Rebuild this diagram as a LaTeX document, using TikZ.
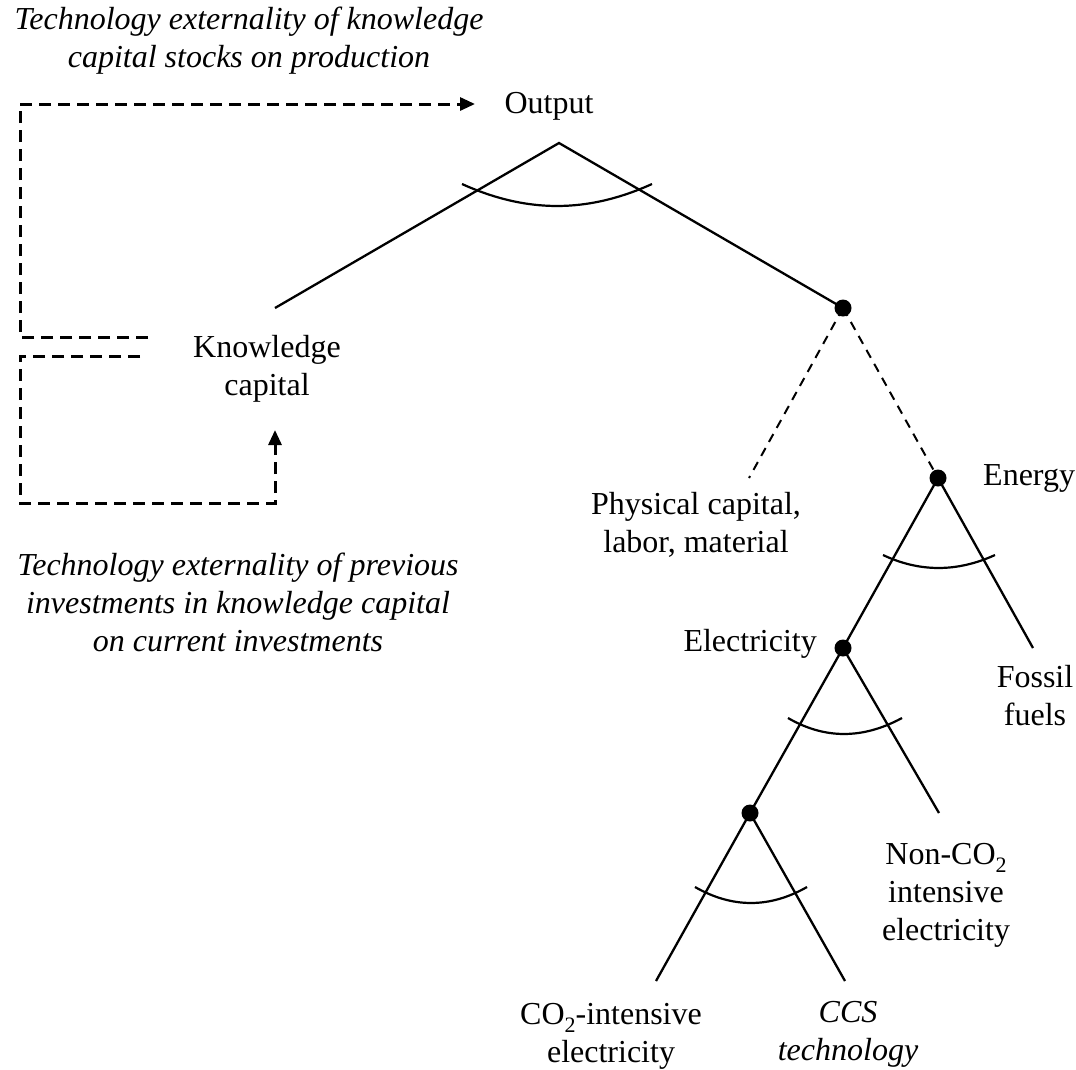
\documentclass[tikz,border=0pt]{standalone}
\usepackage{fontspec}
\setmainfont{Liberation Serif}
\usetikzlibrary{arrows.meta}
\newcommand\subtwo{\raisebox{-0.6ex}{\fontsize{22}{22}\selectfont 2}}
\begin{document}
\begin{tikzpicture}[x=1pt,y=-1pt,
  lbl/.style={inner sep=0pt,align=center,font=\fontsize{32}{38}\selectfont},
  ilbl/.style={lbl,font=\fontsize{32}{38}\selectfont\itshape},
  branch/.style={line width=2.3pt},
  subbranch/.style={line width=2pt,dash pattern=on 9pt off 7pt},
  elast/.style={line width=2.2pt},
  ext/.style={line width=3pt,dash pattern=on 12pt off 7pt,-{Triangle[length=15pt,width=13pt]}},
  junction/.style={circle,fill=black,inner sep=0pt,minimum size=17pt}]
\useasboundingbox (0,0) rectangle (1076,1069);

% texts
\node[ilbl] (toptxt) at (249,41) {Technology externality of knowledge\\capital stocks on production};
\node[ilbl] (bottxt) at (238,602) {Technology externality of previous\\investments in knowledge capital\\on current investments};
\node[lbl] (output) at (549,106) {Output};
\node[lbl] (know) at (267,369) {Knowledge\\capital};
\node[lbl] (phys) at (696,525) {Physical capital,\\labor, material};
\node[lbl,anchor=west] (energy) at (983,478) {Energy};
\node[lbl] (fossil) at (1035,696) {Fossil\\fuels};
\node[lbl,anchor=east] (elec) at (817,644) {Electricity};
\node[lbl] (nonco) at (946,895) {Non-CO\subtwo\\intensive\\electricity};
\node[lbl] (coint) at (611,1036) {CO\subtwo-intensive\\electricity};
\node[ilbl] (ccs) at (848,1034) {CCS\\technology};

% tree points
\coordinate (apex) at (559,143);
\coordinate (kend) at (275,308);
\node[junction] (d1) at (843,308) {};
\coordinate (pend) at (749,478);
\node[junction] (d2) at (938,478) {};
\coordinate (fend) at (1033,648);
\node[junction] (d3) at (843,648) {};
\coordinate (nend) at (939,813);
\node[junction] (d4) at (750,813) {};
\coordinate (cend) at (656,981);
\coordinate (send) at (845,981);

\draw[branch] (kend) -- (apex) -- (d1.center);
\draw[subbranch] (d1.center) -- (pend);
\draw[subbranch] (d1.center) -- (d2.center);
\draw[branch] (d3.center) -- (d2.center) -- (fend);
\draw[branch] (d4.center) -- (d3.center) -- (nend);
\draw[branch] (cend) -- (d4.center) -- (send);

% elasticity arcs
\draw[elast] (462,184) .. controls (526.7,213.3) and (587.3,213.3) .. (652,184);
\draw[elast] (883,555) .. controls (919.7,572.3) and (957,572.3) .. (995,555);
\draw[elast] (788,718) .. controls (824.7,739.3) and (862.7,739.3) .. (902,718);
\draw[elast] (695,887) .. controls (732.3,908.3) and (769.7,908.3) .. (807,887);

% externality connectors
\coordinate (s1) at (148,337);
\coordinate (c1a) at (20,337);
\coordinate (c1b) at (20,104);
\coordinate (t1) at (475,104);
\draw[ext] (s1) -- (c1a) -- (c1b) -- (t1);
\coordinate (s2) at (140,356);
\coordinate (c2a) at (20,356);
\coordinate (c2b) at (20,503);
\coordinate (c2c) at (275,503);
\coordinate (t2) at (275,430);
\draw[ext] (s2) -- (c2a) -- (c2b) -- (c2c) -- (t2);
\end{tikzpicture}
\end{document}
